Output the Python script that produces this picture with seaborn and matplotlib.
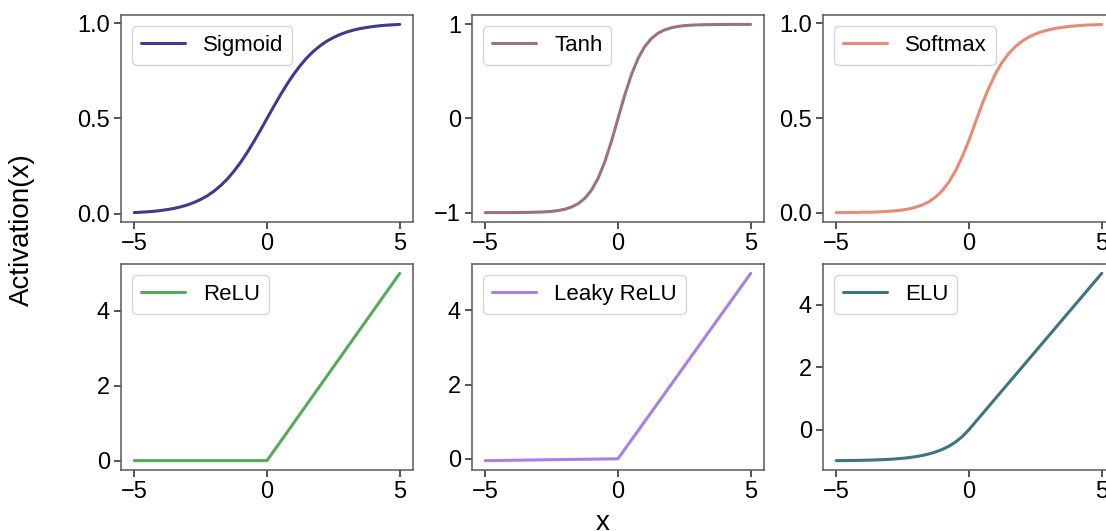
import numpy as np
import matplotlib
matplotlib.use("Agg")
import matplotlib.pyplot as plt
import seaborn as sns

# x grid shared by the smooth curves
x_smooth = np.arange(-5, 5.25, 0.25)

sigmoid_vals = [0.007, 0.009, 0.011, 0.014, 0.018, 0.023, 0.029, 0.037, 0.047, 0.060,
                0.076, 0.095, 0.119, 0.148, 0.182, 0.223, 0.269, 0.321, 0.378, 0.438,
                0.500, 0.562, 0.622, 0.679, 0.731, 0.777, 0.818, 0.852, 0.881, 0.905,
                0.924, 0.940, 0.953, 0.963, 0.971, 0.977, 0.982, 0.986, 0.989, 0.991, 0.993]

tanh_vals = [-1.000, -1.000, -1.000, -1.000, -0.999, -0.999, -0.998, -0.997, -0.995, -0.992,
             -0.987, -0.978, -0.964, -0.941, -0.905, -0.848, -0.762, -0.635, -0.462, -0.245,
             0.000, 0.245, 0.462, 0.635, 0.762, 0.848, 0.905, 0.941, 0.964, 0.978,
             0.987, 0.992, 0.995, 0.997, 0.998, 0.999, 0.999, 1.000, 1.000, 1.000, 1.000]

softmax_vals = [0.000, 0.000, 0.001, 0.001, 0.002, 0.002, 0.003, 0.005, 0.007, 0.010,
                0.014, 0.020, 0.029, 0.041, 0.058, 0.083, 0.117, 0.163, 0.223, 0.297,
                0.382, 0.480, 0.575, 0.660, 0.735, 0.795, 0.842, 0.878, 0.906, 0.928,
                0.944, 0.957, 0.966, 0.974, 0.979, 0.984, 0.987, 0.990, 0.992, 0.993, 0.995]

elu_vals = [-0.993, -0.991, -0.989, -0.986, -0.982, -0.976, -0.970, -0.961, -0.950, -0.936,
            -0.918, -0.895, -0.865, -0.826, -0.777, -0.713, -0.632, -0.528, -0.393, -0.221,
            0.000, 0.25, 0.50, 0.75, 1.00, 1.25, 1.50, 1.75, 2.00, 2.25,
            2.50, 2.75, 3.00, 3.25, 3.50, 3.75, 4.00, 4.25, 4.50, 4.75, 5.00]

# piecewise linear ones only need their corners
x_piece = [-5, 0, 5]
relu_vals = [0, 0, 5]
leaky_vals = [-0.05, 0, 5]

names = ["Sigmoid", "Tanh", "Softmax", "ReLU", "Leaky ReLU", "ELU"]
colors = ["#3c3b8e", "#9b7282", "#e58b76", "#55ab5b", "#a781e0", "#3e7482"]
yticks = [[0, 0.5, 1.0], [-1, 0, 1], [0, 0.5, 1.0], [0, 2, 4], [0, 2, 4], [0, 2, 4]]

series = [
    (x_smooth, sigmoid_vals),
    (x_smooth, tanh_vals),
    (x_smooth, softmax_vals),
    (x_piece, relu_vals),
    (x_piece, leaky_vals),
    (x_smooth, elu_vals),
]

sns.set_theme(style="ticks")
plt.rcParams["font.family"] = ["Liberation Sans", "DejaVu Sans"]
plt.rcParams["text.color"] = "black"
plt.rcParams["axes.edgecolor"] = "0.35"
plt.rcParams["xtick.color"] = "0.15"
plt.rcParams["ytick.color"] = "0.15"
plt.rcParams["xtick.labelcolor"] = "black"
plt.rcParams["ytick.labelcolor"] = "black"

fig = plt.figure(figsize=(11.06, 5.31), dpi=100)

lefts = [121, 472, 823]
width = 292
rows = [(15, 222), (264, 470)]

for i, name in enumerate(names):
    r, c = divmod(i, 3)
    top, bot = rows[r]
    ax = fig.add_axes([lefts[c] / 1106, 1 - bot / 531, width / 1106, (bot - top) / 531])
    xs, ys = series[i]
    sns.lineplot(x=xs, y=ys, ax=ax, color=colors[i], linewidth=2.2, label=name)
    ax.set_xticks([-5, 0, 5])
    ax.set_yticks(yticks[i])
    if c != 1 and r == 0:
        ax.set_yticklabels([f"{v:.1f}" for v in yticks[i]])
    ax.tick_params(labelsize=17, length=5, width=1.1, pad=3)
    for s in ax.spines.values():
        s.set_linewidth(1.1)
    leg = ax.legend(loc="upper left", fontsize=16, handlelength=2.0, handletextpad=0.8,
                    borderaxespad=0.5, frameon=True)
    for t in leg.get_texts():
        t.set_color("black")

fig.text(0.02, 0.567, "Activation(x)", rotation=90, ha="center", va="center", fontsize=20)
fig.text(0.545, 0.002, "x", ha="center", va="baseline", fontsize=20)

fig.savefig("out.png", dpi=100)
